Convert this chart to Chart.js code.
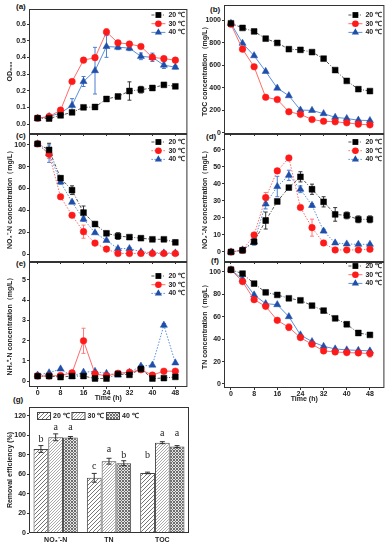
<!DOCTYPE html>
<html>
<head>
<meta charset="utf-8">
<script src="https://cdn.jsdelivr.net/npm/chart.js@4.4.1/dist/chart.umd.min.js"></script>
<style>
  html, body { margin: 0; padding: 0; background: #fff; }
  body { width: 390px; height: 550px; position: relative; overflow: hidden; }
  canvas { position: absolute; }
  .tag { position: absolute; font: bold 8px "Liberation Sans", Arial, sans-serif; color: #111; }
</style>
</head>
<body>
<div class="tag" style="left:16px;top:2px">(a)</div>
<div class="tag" style="left:210px;top:5px">(b)</div>
<div class="tag" style="left:16px;top:131px">(c)</div>
<div class="tag" style="left:206px;top:132px">(d)</div>
<div class="tag" style="left:16px;top:259px">(e)</div>
<div class="tag" style="left:211px;top:256px">(f)</div>
<div class="tag" style="left:13px;top:395px">(g)</div>
<script>
// ---------------- DATA ----------------
const times = [0, 4, 8, 12, 16, 20, 24, 28, 32, 36, 40, 44, 48];
const timeTicks = [0, 8, 16, 24, 32, 40, 48];
const seriesLabels = ["20 ℃", "30 ℃", "40 ℃"];

// (a) OD600
const od20 = [0.035, 0.033, 0.052, 0.07, 0.10, 0.102, 0.15, 0.165, 0.198, 0.206, 0.216, 0.235, 0.226];
const od30 = [0.035, 0.045, 0.083, 0.255, 0.383, 0.398, 0.552, 0.487, 0.48, 0.465, 0.40, 0.392, 0.383];
const od40 = [0.033, 0.045, 0.066, 0.112, 0.255, 0.32, 0.465, 0.461, 0.455, 0.406, 0.40, 0.353, 0.341];
const odErr20 = [0.005, 0.005, 0.005, 0.005, 0.005, 0.005, 0.005, 0.005, 0.055, 0.02, 0.005, 0.005, 0.01];
const odErr30 = [0.005, 0.005, 0.005, 0.01, 0.005, 0.01, 0.02, 0.01, 0.005, 0.01, 0.005, 0.01, 0.005];
const odErr40 = [0.005, 0.005, 0.005, 0.04, 0.03, 0.14, 0.065, 0.015, 0.015, 0.02, 0.025, 0.02, 0.01];
const odTicks = [0, 0.1, 0.2, 0.3, 0.4, 0.5, 0.6];

// (b) TOC
const toc20 = [971, 930, 899, 835, 797, 742, 736, 716, 658, 557, 461, 388, 371];
const toc30 = [962, 742, 586, 316, 296, 188, 165, 119, 104, 99, 90, 78, 72];
const toc40 = [971, 794, 684, 545, 397, 330, 203, 200, 171, 139, 128, 113, 110];
const tocTicks = [0, 200, 400, 600, 800, 1000];

// (c) NO3- -N
const no3_20 = [101, 95.5, 69.5, 58.5, 38, 27.5, 19, 16.5, 15.5, 14.5, 13.5, 13.5, 10.7];
const no3_30 = [101, 91.5, 52.5, 35.5, 20.5, 10, 4.5, 0.5, 0.5, 0.5, 0.5, 0.5, 0.5];
const no3_40 = [101, 92, 66, 47.5, 32, 19.5, 12.5, 5, 5, 2, 1.2, 1, 1];
const no3Err20 = [1, 6, 2, 4, 6, 2, 2, 3, 1, 1, 1, 1, 2];
const no3Err30 = [1, 4, 2, 1, 6, 2, 2, 0.5, 0, 0, 0, 0, 0];
const no3Err40 = [1, 8, 2, 1, 2, 1, 1, 1, 1, 1, 0.5, 0.5, 0.5];
const no3Ticks = [0, 20, 40, 60, 80, 100];

// (d) NO2- -N
const no2_20 = [0, 1, 6, 18.5, 29.7, 37.9, 44.2, 36.9, 29.5, 22.1, 21.5, 19.2, 19.2];
const no2_30 = [0, 1, 10, 32, 47.7, 55.3, 26.2, 14.3, 5.3, 1.2, 1.2, 1.2, 1.6];
const no2_40 = [0, 1.2, 6, 28.3, 38.5, 45.1, 36.9, 27.4, 12.3, 5.3, 4.7, 4.5, 4.5];
const no2Err20 = [0.5, 0.5, 1, 5, 1, 1, 3, 3, 3, 4, 2, 2, 2];
const no2Err30 = [0.5, 0.5, 1, 3, 1, 1, 1, 5, 1, 0.5, 0.5, 0.5, 0.5];
const no2Err40 = [0.5, 0.5, 2, 3, 6, 3, 2, 1, 1, 0.5, 0.5, 0.5, 0.5];
const no2Ticks = [0, 10, 20, 30, 40, 50, 60];

// (e) NH4+ -N
const nh4_20 = [0.25, 0.25, 0.2, 0.25, 0.25, 0.13, 0.13, 0.35, 0.31, 0.6, 0.13, 0.15, 0.21];
const nh4_30 = [0.25, 0.25, 0.28, 0.41, 1.99, 0.36, 0.26, 0.39, 0.44, 0.56, 0.3, 0.49, 0.49];
const nh4_40 = [0.3, 0.41, 0.6, 0.23, 0.44, 0.48, 0.38, 0.3, 0.43, 0.74, 0.79, 2.76, 0.9];
const nh4Err20 = [0, 0, 0, 0, 0, 0, 0, 0, 0, 0.05, 0, 0, 0];
const nh4Err30 = [0, 0, 0, 0, 0.62, 0, 0, 0, 0, 0.05, 0, 0, 0];
const nh4Err40 = [0, 0, 0, 0, 0, 0, 0, 0, 0, 0.05, 0, 0.08, 0];
const nh4Ticks = [0, 1, 2, 3, 4, 5];

// (f) TN
const tn20 = [102, 98.5, 89.6, 81.8, 79.5, 76.5, 74.7, 69.9, 65.5, 58.6, 53.3, 45.5, 43.8];
const tn30 = [102, 91.4, 75.3, 69.3, 56.8, 50.6, 41.4, 35.4, 29.5, 28.6, 28, 27.7, 27.1];
const tn40 = [102, 93.5, 79.5, 71.7, 70.8, 60.1, 43.8, 37.8, 33.6, 31.3, 30.4, 30, 29.5];
const tnErr30 = [0, 1, 1, 1, 1, 3, 1, 1, 1, 1, 1, 1, 3];
const tnTicks = [0, 20, 40, 60, 80, 100];

// (g) removal efficiency
const removalCats = ["NO₃⁻-N", "TN", "TOC"];
const rem20 = [86, 56.5, 61.5];
const rem30 = [98, 73.5, 92.5];
const rem40 = [97.8, 71.5, 88.5];
const remErr20 = [3.5, 4.5, 0.8];
const remErr30 = [3.5, 3, 1];
const remErr40 = [1, 2.5, 1];
const letters20 = ["b", "c", "b"];
const letters30 = ["a", "a", "a"];
const letters40 = ["a", "b", "a"];
const letterAt20 = [92, 64, 75];
const letterAt30 = [104.5, 82, 97.5];
const letterAt40 = [104.5, 75, 97.5];
const remTicks = [0, 20, 40, 60, 80, 100, 120];

// ---------------- LAYOUT ----------------
const FONT = '"Liberation Sans", Arial, sans-serif';
Chart.defaults.font.family = FONT;
Chart.defaults.font.size = 7;
Chart.defaults.color = "#222";

const boxes = {
    a: { l: 29, t: 9, r: 189, b: 134, xh: 8 },
    c: { l: 29, t: 134, r: 189, b: 262, xh: 8 },
    e: { l: 29, t: 262, r: 189, b: 387, xh: 16 },
    b: { l: 224, t: 5, r: 386, b: 134, xh: 8 },
    d: { l: 224, t: 134, r: 386, b: 262, xh: 8 },
    f: { l: 224, t: 262, r: 386, b: 388, xh: 16 },
    g: { l: 29, t: 407, r: 189, b: 533, xh: 14 }
};

function placeCanvas(key) {
    const b = boxes[key];
    const cv = document.createElement("canvas");
    const x = b.l - 29, y = b.t - 10;
    const w = b.r - x + 3, h = b.b - y + b.xh;
    cv.width = w; cv.height = h;
    cv.style.left = x + "px"; cv.style.top = y + "px";
    cv.style.width = w + "px"; cv.style.height = h + "px";
    document.body.appendChild(cv);
    return cv;
}

// ---------------- PLUGINS ----------------
const framePlugin = {
    id: "frame",
    afterDraw(chart) {
        const { ctx, chartArea: a } = chart;
        ctx.save();
        ctx.strokeStyle = "#333";
        ctx.lineWidth = 1;
        ctx.strokeRect(a.left + 0.5, a.top + 0.5, a.right - a.left - 1, a.bottom - a.top - 1);
        ctx.restore();
    }
};

const errorPlugin = {
    id: "errors",
    beforeDatasetsDraw(chart) {
        const { ctx } = chart;
        const y = chart.scales.y;
        chart.data.datasets.forEach((ds, i) => {
            if (!ds.errors) return;
            const meta = chart.getDatasetMeta(i);
            ctx.save();
            ctx.strokeStyle = ds.errColor;
            ctx.lineWidth = 1;
            meta.data.forEach((pt, j) => {
                const e = ds.errors[j];
                if (!e) return;
                const v = ds.data[j].y;
                const y1 = y.getPixelForValue(v + e), y2 = y.getPixelForValue(v - e);
                ctx.beginPath();
                ctx.moveTo(pt.x, y1); ctx.lineTo(pt.x, y2);
                ctx.moveTo(pt.x - 2, y1); ctx.lineTo(pt.x + 2, y1);
                ctx.moveTo(pt.x - 2, y2); ctx.lineTo(pt.x + 2, y2);
                ctx.stroke();
            });
            ctx.restore();
        });
    }
};

function drawMarker(ctx, style, r, x, y, color) {
    ctx.fillStyle = color;
    ctx.beginPath();
    if (style === "rect") {
        const s = r / Math.SQRT2;
        ctx.rect(x - s, y - s, 2 * s, 2 * s);
    } else if (style === "triangle") {
        for (let k = 0; k < 3; k++) {
            const ang = k * 2 * Math.PI / 3;
            ctx.lineTo(x + Math.sin(ang) * r, y - Math.cos(ang) * r);
        }
        ctx.closePath();
    } else {
        ctx.arc(x, y, r, 0, 2 * Math.PI);
    }
    ctx.fill();
}

function legendPlugin(topOffset) {
    return {
        id: "lineLegend",
        afterDraw(chart) {
            const { ctx, chartArea: a } = chart;
            chart.data.datasets.forEach((ds, i) => {
                const y = a.top + topOffset + i * 8.7;
                const xm = a.right - 29;
                ctx.save();
                ctx.strokeStyle = ds.borderColor;
                ctx.lineWidth = 1;
                ctx.setLineDash(ds.borderDash || []);
                ctx.beginPath(); ctx.moveTo(xm - 7, y); ctx.lineTo(xm + 7, y); ctx.stroke();
                ctx.setLineDash([]);
                drawMarker(ctx, ds.pointStyle, ds.pointRadius, xm, y, ds.pointBackgroundColor);
                ctx.fillStyle = "#222";
                ctx.font = "bold 7px " + FONT;
                ctx.textBaseline = "middle";
                ctx.fillText(ds.label, xm + 10, y);
                ctx.restore();
            });
        }
    };
}

// ---------------- AXES ----------------
function axisY(min, max, ticks, title, fmt) {
    return {
        type: "linear", min, max,
        afterBuildTicks: s => { s.ticks = ticks.map(v => ({ value: v })); },
        afterFit: s => { s.width = 29; },
        grid: { drawOnChartArea: false, tickLength: 2, color: "#333" },
        border: { display: false },
        ticks: { padding: 1, font: { size: 7, weight: "bold" }, color: "#222", callback: fmt || (v => String(v)) },
        title: { display: true, text: title, font: { size: 7, weight: "bold" }, color: "#222", padding: { top: 6, bottom: 0 } }
    };
}

function axisX(min, max, showLabels, xh) {
    return {
        type: "linear", min, max,
        afterBuildTicks: s => { s.ticks = timeTicks.map(v => ({ value: v })); },
        afterFit: s => { s.height = xh; },
        grid: { drawOnChartArea: false, tickLength: 2, color: "#333" },
        border: { display: false },
        ticks: { display: showLabels, padding: 0, maxRotation: 0, autoSkip: false, font: { size: 7, weight: "bold" }, color: "#222", callback: v => String(v) },
        title: { display: showLabels, text: "Time (h)", font: { size: 7, weight: "bold" }, color: "#222", padding: { top: 0, bottom: 1 } }
    };
}

// ---------------- SERIES STYLE ----------------
const styles = [
    { line: "#555", dash: [3, 1.5, 1, 1.5], shape: "rect", r: 4.1, fill: "#000", err: "#333" },
    { line: "#ff6b6b", dash: [], shape: "circle", r: 3.3, fill: "#ff1a1a", err: "#ff7b7b" },
    { line: "#5a8fdc", dash: [], shape: "triangle", r: 4.1, fill: "#1f4fa8", err: "#4a7fd0" }
];

function lineSet(i, values, errs, dotted) {
    const st = styles[i];
    return {
        label: seriesLabels[i],
        data: times.map((t, k) => ({ x: t, y: values[k] })),
        errors: errs,
        errColor: st.err,
        borderColor: st.line,
        borderWidth: 1,
        borderDash: dotted && i > 0 ? [1.5, 1.5] : st.dash,
        pointStyle: st.shape,
        pointRadius: st.r,
        pointBackgroundColor: st.fill,
        pointBorderColor: st.fill,
        pointBorderWidth: 0.5,
        tension: 0
    };
}

function linePanel(key, datasets, yAxis, legendTop) {
    const b = boxes[key];
    const left = key === "a" || key === "c" || key === "e";
    const xRange = left ? [-3, 52.2] : [-2.4, 53];
    const labels = key === "e" || key === "f";
    new Chart(placeCanvas(key), {
        type: "line",
        data: { datasets },
        options: {
            responsive: false,
            animation: false,
            devicePixelRatio: 1,
            layout: { padding: { top: 10, right: 3, left: 0, bottom: 0 } },
            plugins: { legend: { display: false }, tooltip: { enabled: false } },
            scales: { x: axisX(xRange[0], xRange[1], labels, b.xh), y: yAxis }
        },
        plugins: [errorPlugin, framePlugin, legendPlugin(legendTop)]
    });
}

// ---------------- LINE PANELS ----------------
linePanel("a", [
    lineSet(0, od20, odErr20), lineSet(1, od30, odErr30), lineSet(2, od40, odErr40)
], axisY(-0.06, 0.69, odTicks, "OD₆₀₀", v => v.toFixed(1)), 6);

linePanel("b", [
    lineSet(0, toc20), lineSet(1, toc30), lineSet(2, toc40)
], axisY(-9, 1133, tocTicks, "TOC concentration（mg/L）"), 10);

linePanel("c", [
    lineSet(0, no3_20, no3Err20, true), lineSet(1, no3_30, no3Err30, true), lineSet(2, no3_40, no3Err40, true)
], axisY(-7.3, 110, no3Ticks, "NO₃⁻-N concentration（mg/L）"), 8);

linePanel("d", [
    lineSet(0, no2_20, no2Err20, true), lineSet(1, no2_30, no2Err30, true), lineSet(2, no2_40, no2Err40, true)
], axisY(-5.9, 69.4, no2Ticks, "NO₂⁻-N concentration（mg/L）"), 8);

linePanel("e", [
    lineSet(0, nh4_20, nh4Err20), lineSet(1, nh4_30, nh4Err30), lineSet(2, nh4_40, nh4Err40, true)
], axisY(-0.29, 5.88, nh4Ticks, "NH₄⁺-N concentration（mg/L）"), 14);

linePanel("f", [
    lineSet(0, tn20), lineSet(1, tn30, tnErr30), lineSet(2, tn40)
], axisY(-3.6, 108.9, tnTicks, "TN concentration（mg/L）"), 4);

// ---------------- BAR PANEL (g) ----------------
function makePattern(kind) {
    const t = document.createElement("canvas");
    const n = kind === "wide" ? 4 : 3;
    t.width = t.height = n;
    const g = t.getContext("2d");
    g.fillStyle = kind === "cross" ? "#e6e6e6" : "#fff";
    g.fillRect(0, 0, n, n);
    if (kind === "cross") {
        g.fillStyle = "#6e6e6e";
        [[0, 0], [1, 1], [2, 2], [2, 0], [0, 2]].forEach(p => g.fillRect(p[0], p[1], 1, 1));
    } else {
        g.strokeStyle = kind === "wide" ? "#777" : "#aaa";
        g.lineWidth = 1;
        g.beginPath();
        g.moveTo(0, n); g.lineTo(n, 0);
        g.moveTo(-1, 1); g.lineTo(1, -1);
        g.moveTo(n - 1, n + 1); g.lineTo(n + 1, n - 1);
        g.stroke();
    }
    return g.createPattern(t, "repeat");
}

const barFills = [makePattern("wide"), makePattern("fine"), makePattern("cross")];

function barSet(i, values, errs, letters, letterAt) {
    return {
        label: seriesLabels[i],
        data: values,
        errors: errs,
        letters,
        letterAt,
        backgroundColor: barFills[i],
        borderColor: "#444",
        borderWidth: 1,
        categoryPercentage: 0.83,
        barPercentage: 1
    };
}

const barExtras = {
    id: "barExtras",
    afterDatasetsDraw(chart) {
        const { ctx } = chart;
        const y = chart.scales.y;
        chart.data.datasets.forEach((ds, i) => {
            const meta = chart.getDatasetMeta(i);
            meta.data.forEach((bar, j) => {
                const top = y.getPixelForValue(ds.data[j] + ds.errors[j]);
                const bot = y.getPixelForValue(ds.data[j] - ds.errors[j]);
                ctx.save();
                ctx.strokeStyle = "#333";
                ctx.lineWidth = 1;
                ctx.beginPath();
                ctx.moveTo(bar.x, top); ctx.lineTo(bar.x, bot);
                ctx.moveTo(bar.x - 2.5, top); ctx.lineTo(bar.x + 2.5, top);
                ctx.moveTo(bar.x - 2.5, bot); ctx.lineTo(bar.x + 2.5, bot);
                ctx.stroke();
                ctx.fillStyle = "#222";
                ctx.font = '10px "Liberation Serif", "Times New Roman", serif';
                ctx.textAlign = "center";
                ctx.textBaseline = "bottom";
                ctx.fillText(ds.letters[j], bar.x, y.getPixelForValue(ds.letterAt[j]) + 1);
                ctx.restore();
            });
        });
    },
    afterDraw(chart) {
        const { ctx, chartArea: a } = chart;
        chart.data.datasets.forEach((ds, i) => {
            const x0 = a.left + 8 + i * 34.5;
            ctx.save();
            ctx.fillStyle = ds.backgroundColor;
            ctx.fillRect(x0, a.top + 5, 13, 7);
            ctx.strokeStyle = "#444";
            ctx.lineWidth = 1;
            ctx.strokeRect(x0 + 0.5, a.top + 5.5, 13, 7);
            ctx.fillStyle = "#222";
            ctx.font = "bold 7px " + FONT;
            ctx.textBaseline = "middle";
            ctx.fillText(ds.label, x0 + 16, a.top + 9);
            ctx.restore();
        });
    }
};

new Chart(placeCanvas("g"), {
    type: "bar",
    data: {
        labels: removalCats,
        datasets: [
            barSet(0, rem20, remErr20, letters20, letterAt20),
            barSet(1, rem30, remErr30, letters30, letterAt30),
            barSet(2, rem40, remErr40, letters40, letterAt40)
        ]
    },
    options: {
        responsive: false,
        animation: false,
        devicePixelRatio: 1,
        layout: { padding: { top: 10, right: 3, left: 0, bottom: 0 } },
        plugins: { legend: { display: false }, tooltip: { enabled: false } },
        scales: {
            x: {
                type: "category",
                afterFit: s => { s.height = boxes.g.xh; },
                grid: { drawOnChartArea: false, drawTicks: false },
                border: { display: false },
                ticks: { padding: 3, font: { size: 7, weight: "bold" }, color: "#222" }
            },
            y: axisY(0, 129, remTicks, "Removal efficiency (%)")
        }
    },
    plugins: [framePlugin, barExtras]
});
</script>
</body>
</html>
